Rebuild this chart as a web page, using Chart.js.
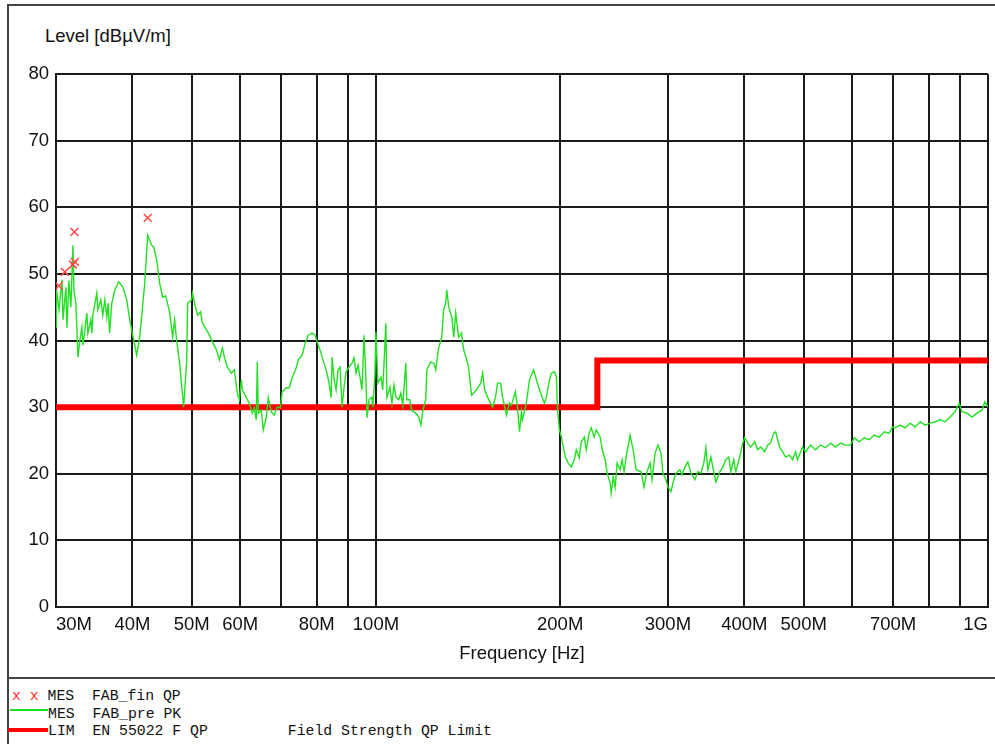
<!DOCTYPE html>
<html>
<head>
<meta charset="utf-8">
<script src="https://cdn.jsdelivr.net/npm/chart.js@4/dist/chart.umd.min.js"></script>
<style>
  html, body { margin: 0; padding: 0; background: #fff; width: 995px; height: 744px; overflow: hidden; }
  #frame { position: absolute; left: 7px; top: 4px; width: 995px; height: 745px; border-left: 2px solid #444; border-top: 2px solid #444; }
  #sep { position: absolute; left: 7px; top: 677px; width: 990px; height: 0; border-top: 2px solid #444; }
  #chartBox { position: absolute; left: 0; top: 0; width: 995px; height: 678px; }
  #yTitle { position: absolute; left: 45px; top: 26px; font: 18.5px "Liberation Sans", Arial, sans-serif; line-height: 20px; color: #111; white-space: pre; }
  .leg { position: absolute; left: 12px; font: 14.8px "Liberation Mono", "Courier New", monospace; line-height: 18px; color: #111; white-space: pre; }
  .red { color: #ff3030; }
  .sym { position: absolute; }
</style>
</head>
<body>
<div id="frame"></div>
<div id="sep"></div>
<div id="yTitle">Level [dBµV/m]</div>
<div id="chartBox"><canvas id="emiChart"></canvas></div>

<div class="leg" style="top:687px"><span class="red">x x </span>MES  FAB_fin QP</div>
<div class="sym" style="left:10px; top:709px; width:38px; height:2px; background:#1ee01e"></div>
<div class="leg" style="top:705px; left:48px">MES  FAB_pre PK</div>
<div class="sym" style="left:8px; top:728px; width:40px; height:4px; background:#ff0000"></div>
<div class="leg" style="top:722px; left:48px">LIM  EN 55022 F QP         Field Strength QP Limit</div>

<script>
// -----------------------------
// Axis ticks
// -----------------------------
const xTickValues = [30, 40, 50, 60, 70, 80, 90, 100, 200, 300, 400, 500, 600, 700, 800, 900, 1000];
const xTickLabels = ["30M", "40M", "50M", "60M", "", "80M", "", "100M", "200M", "300M", "400M", "500M", "", "700M", "", "", "1G"];

// -----------------------------
// Data (frequency in MHz, level in dBuV/m)
// -----------------------------
// final QP measurements (red x)
const qpFreqMHz = [30.34, 31.02, 31.97, 32.21, 32.15, 42.36];
const qpLevel   = [48.2, 50.3, 51.4, 51.8, 56.3, 58.4];

// limit EN 55022 class B
const limitFreqMHz = [30, 230, 230, 1000];
const limitLevel   = [30, 30, 37, 37];

// pre scan peak trace (green)
const peakFreqMHz = [
  30.0, 30.05, 30.34, 30.68, 30.8, 31.14, 31.26, 31.49, 31.73, 31.97,
  32.09, 32.33, 32.58, 32.82, 33.07, 33.2, 33.7, 33.82, 34.2, 34.33,
  34.46, 34.98, 35.11, 35.51, 35.78, 36.05, 36.32, 36.5, 36.7, 37.01,
  37.43, 37.99, 38.57, 39.15, 39.59, 40.04, 40.64, 41.11, 41.89, 42.36,
  43.0, 43.33, 43.82, 44.31, 44.81, 45.32, 46.0, 46.53, 46.88, 47.23,
  47.77, 48.49, 49.04, 49.23, 49.97, 50.15, 50.53, 51.1, 51.67, 52.06,
  52.84, 53.44, 54.04, 54.86, 55.48, 56.11, 56.53, 57.17, 58.03, 58.69,
  59.35, 59.8, 60.26, 60.48, 61.4, 62.09, 62.8, 63.26, 63.74, 63.98,
  64.22, 64.95, 65.44, 66.19, 66.69, 67.44, 68.2, 68.97, 69.76, 70.28,
  71.35, 72.15, 72.97, 74.07, 74.63, 75.75, 76.61, 77.48, 78.65, 79.54,
  80.14, 81.35, 81.66, 82.9, 83.84, 84.47, 84.79, 85.43, 86.07, 86.72,
  87.37, 88.03, 88.69, 89.36, 90.37, 91.39, 92.08, 92.77, 93.47, 94.52,
  94.88, 95.59, 96.31, 96.67, 97.41, 98.49, 98.86, 99.61, 100.0, 100.7,
  101.9, 102.6, 103.8, 104.2, 105.4, 106.2, 107.0, 107.8, 109.0, 109.8,
  110.6, 111.9, 112.3, 113.6, 114.4, 116.2, 117.5, 118.4, 119.3, 120.6,
  121.1, 122.9, 124.3, 125.2, 126.6, 128.1, 129.0, 130.0, 130.5, 131.5,
  133.0, 134.0, 135.0, 136.5, 138.0, 139.1, 140.7, 141.7, 142.8, 143.3,
  144.4, 146.0, 148.3, 149.4, 150.5, 152.2, 153.9, 155.1, 156.8, 158.0,
  159.8, 161.0, 162.8, 163.4, 165.3, 166.5, 169.0, 170.3, 171.6, 172.9,
  173.5, 175.5, 176.2, 178.2, 180.9, 182.9, 185.0, 186.4, 188.5, 189.9,
  192.1, 193.5, 195.7, 197.2, 197.9, 199.4, 200.9, 202.4, 203.9, 206.2,
  208.6, 210.9, 212.5, 214.9, 216.5, 219.0, 220.6, 223.1, 224.8, 227.3,
  229.1, 232.5, 234.3, 236.9, 238.7, 241.4, 242.3, 244.1, 246.0, 247.8,
  250.6, 252.5, 254.4, 256.3, 260.2, 263.2, 266.1, 271.2, 274.2, 277.3,
  280.5, 282.6, 285.8, 289.0, 292.3, 294.4, 297.8, 300.0, 303.4, 305.7,
  309.2, 313.8, 316.2, 319.8, 323.4, 327.1, 332.0, 335.7, 339.5, 343.4,
  346.0, 348.6, 352.6, 356.5, 359.2, 364.7, 368.8, 372.9, 377.2, 380.0,
  384.3, 387.2, 393.0, 397.5, 400.5, 405.0, 409.6, 415.8, 420.5, 425.3,
  431.7, 436.5, 441.5, 446.5, 449.9, 456.7, 461.9, 467.1, 474.2, 479.5,
  484.9, 488.6, 497.8, 503.4, 513.0, 522.7, 532.6, 542.7, 552.9, 563.4,
  574.1, 584.9, 596.0, 604.9, 616.3, 628.1, 640.0, 652.0, 664.4, 677.0,
  690.0, 697.8, 705.7, 719.1, 732.8, 746.5, 760.6, 775.1, 789.8, 804.6,
  820.0, 835.5, 851.1, 867.2, 883.7, 897.1, 907.3, 924.4, 941.9, 959.6,
  977.7, 988.8, 1000
];
const peakLevel = [
  42.0, 47.6, 44.6, 49.1, 43.1, 48.0, 41.9, 49.0, 45.0, 54.3,
  47.6, 45.6, 37.5, 40.0, 42.0, 39.3, 44.1, 41.1, 43.1, 41.1,
  43.8, 47.1, 44.6, 46.1, 43.8, 46.1, 43.5, 45.6, 41.1, 45.6,
  47.6, 48.8, 48.0, 46.1, 43.1, 40.8, 37.8, 40.5, 48.6, 55.8,
  54.3, 54.0, 52.1, 48.6, 46.5, 46.7, 44.3, 40.5, 43.1, 40.0,
  36.6, 30.0, 36.6, 45.6, 46.1, 47.1, 45.6, 43.8, 44.3, 42.6,
  41.6, 40.8, 39.8, 38.6, 37.1, 38.9, 37.5, 36.0, 35.1, 35.6,
  32.1, 31.1, 34.1, 32.6, 31.4, 30.6, 29.1, 29.9, 28.1, 36.8,
  29.1, 29.5, 26.6, 28.5, 31.4, 29.3, 28.8, 30.0, 29.9, 32.3,
  32.9, 32.9, 34.4, 35.9, 37.1, 37.8, 39.6, 40.8, 41.1, 40.8,
  39.8, 38.1, 37.5, 35.6, 33.6, 31.4, 37.5, 34.1, 32.6, 35.6,
  36.0, 30.0, 33.0, 35.3, 36.0, 36.6, 37.4, 35.1, 36.3, 33.6,
  32.6, 40.8, 34.1, 28.4, 31.1, 31.5, 30.0, 35.1, 41.3, 33.6,
  34.5, 32.6, 42.6, 31.5, 33.0, 30.6, 33.3, 31.5, 31.1, 32.1,
  30.3, 36.6, 31.1, 31.1, 29.5, 29.1, 28.5, 27.3, 29.5, 31.1,
  35.6, 36.8, 36.6, 35.6, 38.9, 40.5, 44.6, 45.6, 47.6, 45.0,
  43.5, 40.5, 44.1, 40.5, 41.1, 38.6, 37.1, 36.0, 33.0, 31.8,
  32.1, 32.6, 33.6, 35.1, 32.6, 31.5, 30.6, 30.0, 31.5, 33.6,
  33.6, 31.5, 29.5, 28.8, 30.6, 30.3, 32.3, 30.0, 26.3, 29.3,
  28.1, 30.0, 30.8, 34.1, 35.6, 34.1, 32.6, 31.8, 30.6, 31.5,
  34.1, 35.1, 35.3, 34.5, 30.0, 26.6, 25.5, 24.0, 22.5, 21.6,
  21.0, 22.1, 23.6, 22.4, 24.8, 25.5, 23.6, 26.1, 26.9, 25.5,
  26.6, 25.5, 23.6, 22.1, 20.1, 18.6, 17.1, 19.5, 18.0, 21.6,
  20.6, 22.1, 20.3, 22.5, 25.8, 23.6, 20.6, 20.3, 18.0, 20.3,
  21.6, 19.1, 23.1, 24.3, 23.1, 20.1, 19.1, 18.0, 17.3, 18.6,
  20.1, 20.6, 19.8, 21.0, 21.8, 20.1, 19.1, 20.3, 20.1, 21.6,
  23.9, 20.6, 22.5, 20.3, 18.8, 20.3, 21.0, 22.1, 22.5, 20.3,
  22.1, 20.3, 22.5, 24.6, 25.4, 24.6, 24.0, 24.8, 23.6, 24.0,
  23.3, 24.3, 24.6, 26.1, 26.3, 24.0, 23.3, 22.5, 22.8, 22.1,
  23.3, 22.1, 24.0, 23.3, 24.3, 23.6, 24.3, 23.9, 24.6, 24.0,
  24.6, 24.3, 24.3, 25.4, 24.8, 25.4, 25.1, 25.8, 25.5, 26.3,
  26.1, 27.0, 26.9, 27.3, 26.9, 27.6, 27.0, 27.8, 27.3, 27.6,
  27.8, 28.1, 27.8, 28.5, 29.3, 30.6, 29.3, 29.1, 28.5, 29.1,
  29.5, 30.8, 30.0
];

// -----------------------------
// Chart
// -----------------------------
function toPoints(xs, ys) {
  return xs.map((x, i) => ({ x: x, y: ys[i] }));
}

const axisFont = { family: '"Liberation Sans", Arial, sans-serif', size: 18.5 };
const gridColor = "#1a1a1a";

new Chart(document.getElementById("emiChart"), {
  type: "line",
  data: {
    datasets: [
      {
        label: "MES FAB_fin QP",
        data: toPoints(qpFreqMHz, qpLevel),
        showLine: false,
        pointStyle: "crossRot",
        pointRadius: 5.5,
        pointBorderWidth: 1.6,
        pointBorderColor: "#ff4a4a",
        borderColor: "#ff4a4a"
      },
      {
        label: "MES FAB_pre PK",
        data: toPoints(peakFreqMHz, peakLevel),
        borderColor: "#22e022",
        borderWidth: 1.4,
        pointRadius: 0,
        tension: 0
      },
      {
        label: "LIM EN 55022 F QP",
        data: toPoints(limitFreqMHz, limitLevel),
        borderColor: "#ff0000",
        borderWidth: 6,
        borderJoinStyle: "miter",
        pointRadius: 0,
        tension: 0
      }
    ]
  },
  options: {
    responsive: true,
    maintainAspectRatio: false,
    animation: false,
    layout: { padding: { left: 0, top: 74, right: 4, bottom: 0 } },
    plugins: {
      legend: { display: false },
      tooltip: { enabled: false }
    },
    scales: {
      x: {
        type: "logarithmic",
        min: 30,
        max: 1000,
        afterBuildTicks: (s) => { s.ticks = xTickValues.map(v => ({ value: v })); },
        afterFit: (s) => { s.height = 71; },
        ticks: {
          autoSkip: false,
          maxRotation: 0,
          align: "inner",
          padding: 7,
          color: "#111",
          font: axisFont,
          callback: (v, i) => xTickLabels[i]
        },
        grid: { color: gridColor, lineWidth: 2, drawTicks: false },
        border: { color: gridColor, width: 2 },
        title: {
          display: true,
          text: "Frequency [Hz]",
          color: "#111",
          font: axisFont,
          padding: { top: 0, bottom: 13 }
        }
      },
      y: {
        min: 0,
        max: 80,
        afterFit: (s) => { s.width = 56; },
        ticks: { stepSize: 10, padding: 7, color: "#111", font: axisFont },
        grid: { color: gridColor, lineWidth: 2, drawTicks: false },
        border: { color: gridColor, width: 2 }
      }
    }
  }
});
</script>
</body>
</html>
